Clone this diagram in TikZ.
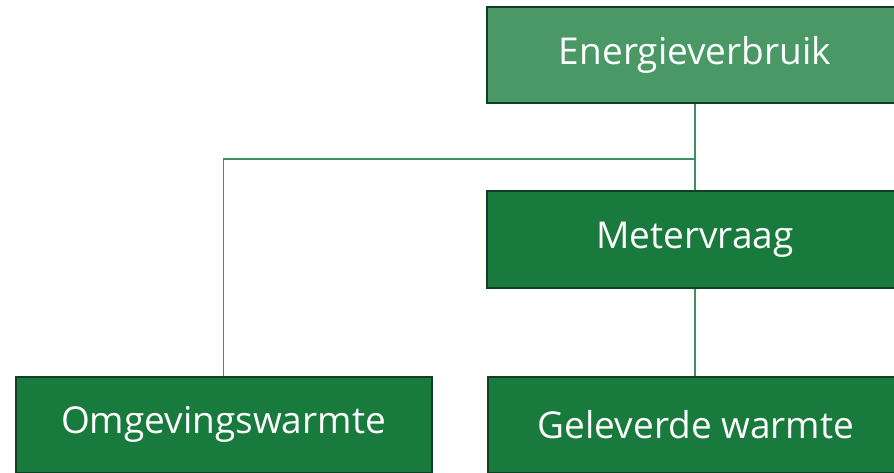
\documentclass[tikz,border=0pt]{standalone}
\usepackage{fontspec}
\setmainfont{Open Sans}
\definecolor{boxlight}{HTML}{4A9866}
\definecolor{boxdark}{HTML}{187A3C}
\definecolor{edgedark}{HTML}{123F22}
\definecolor{linkgreen}{HTML}{3E9160}
\begin{document}
\begin{tikzpicture}[x=1pt,y=-1pt,
  box/.style={rectangle, draw=edgedark, line width=2pt, fill=boxdark, text=white,
    minimum width=416pt, minimum height=96pt, inner sep=0pt,
    font=\fontsize{37}{41}\selectfont},
  lightbox/.style={box, fill=boxlight},
  link/.style={draw=linkgreen, line width=1.1pt}]
\useasboundingbox (0,0) rectangle (894,473);
\clip (0,0) rectangle (894,473);
\node[lightbox] (E) at (695,55) {Energieverbruik};
\node[box] (M) at (695,239.5) {Metervraag};
\node[box] (O) at (223.5,424.5) {Omgevingswarmte};
\node[box] (G) at (696,424.5) {Geleverde warmte};
\coordinate (j) at (695,159);
\draw[link] (E.south) -- (j) -- (M.north);
\draw[link] (j) -| (O.north);
\draw[link] (M.south) -- (M.south |- G.north);
\end{tikzpicture}
\end{document}
